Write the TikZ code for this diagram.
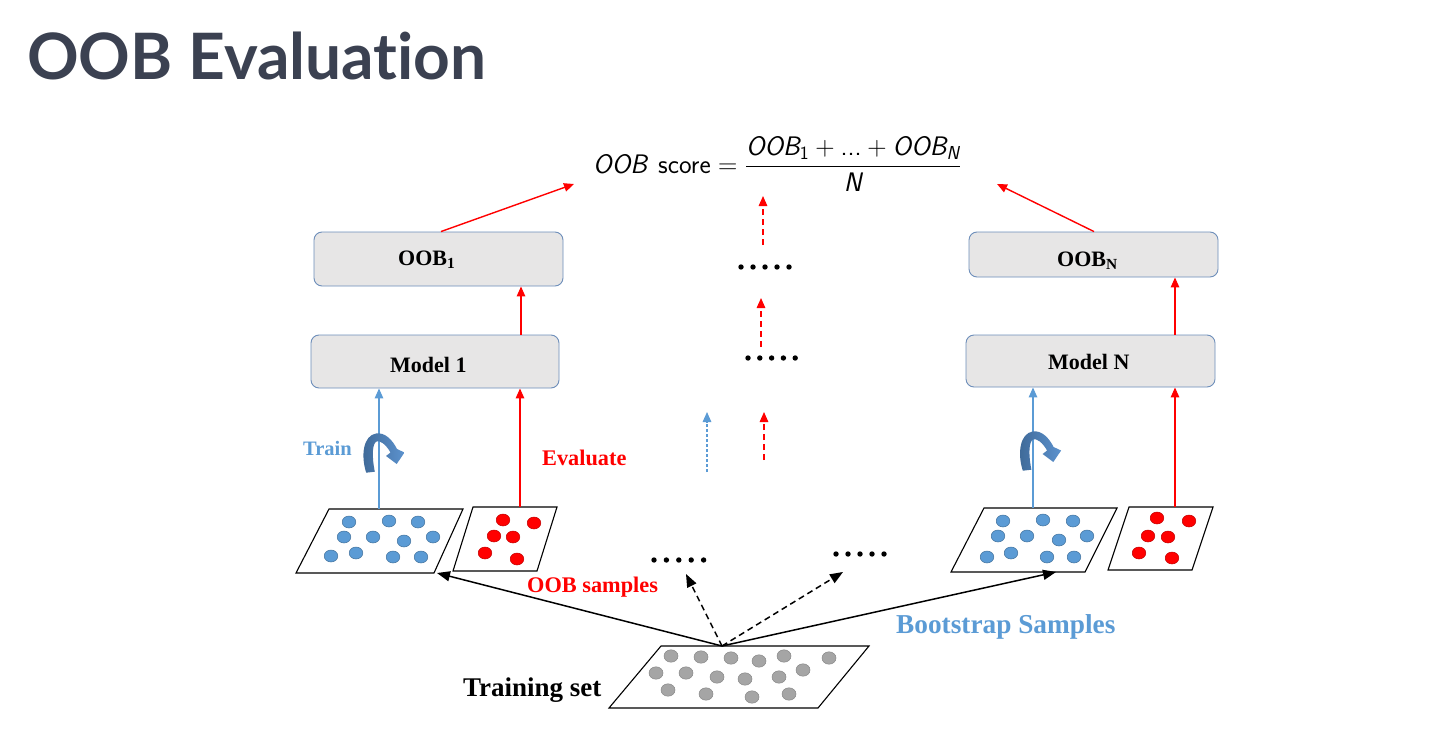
\documentclass[tikz,border=0pt]{standalone}
\usepackage{fix-cm}
\usepackage{amsmath}
\usepackage{fontspec}
\setmainfont{Liberation Serif}
\newfontfamily\latofont{Lato}[Ligatures=NoCommon]
\usetikzlibrary{arrows.meta}
\definecolor{titlecol}{RGB}{59,65,81}
\definecolor{lblue}{RGB}{91,155,213}
\definecolor{bluedark}{RGB}{65,113,156}
\definecolor{myred}{RGB}{255,0,0}
\definecolor{reddark}{RGB}{192,0,0}
\definecolor{boxfill}{RGB}{231,230,230}
\definecolor{boxborder}{RGB}{109,142,186}
\definecolor{grayfill}{RGB}{165,165,165}
\definecolor{graydraw}{RGB}{135,135,135}
\definecolor{curvedark}{RGB}{62,104,150}
\definecolor{curvelight}{RGB}{92,146,206}
\newcommand{\sfi}[1]{\text{\sffamily\itshape #1}}
\newcommand{\sfu}[1]{\text{\sffamily #1}}
\tikzset{
  modelbox/.style={draw=boxborder, fill=boxfill, rounded corners=8pt, line width=0.9pt, inner sep=0pt},
  boxtext/.style={inner sep=0pt, anchor=base west, font=\fontsize{22}{26}\selectfont\bfseries},
  lbl/.style={inner sep=0pt, anchor=base west, font=\bfseries},
  redarrow/.style={draw=myred, line width=1.4pt, -{Triangle[length=10pt,width=8.5pt]}},
  bluearrow/.style={draw=lblue, line width=1.4pt, -{Triangle[length=10pt,width=8.5pt]}},
  reddash/.style={redarrow, dash pattern=on 6pt off 4pt},
  bluedash/.style={bluearrow, dash pattern=on 3pt off 2pt},
  blackarrow/.style={draw=black, line width=1.5pt, -{Triangle[length=13pt,width=10pt]}},
  blackdash/.style={blackarrow, dash pattern=on 6pt off 4pt},
  para/.style={draw=black, line width=1.1pt, fill=white},
  bdot/.style={fill=lblue, draw=bluedark, line width=0.5pt},
  rdot/.style={fill=myred, draw=reddark, line width=0.5pt},
  gdot/.style={fill=grayfill, draw=graydraw, line width=0.5pt},
  curvearrow/.style={left color=curvedark, right color=curvelight, draw=none}
}
\begin{document}
\begin{tikzpicture}[x=1pt,y=-1pt]
\useasboundingbox (0,0) rectangle (1448,752);
\fill[white] (0,0) rectangle (1448,752);

% title
\node[inner sep=0pt, anchor=base west, text=titlecol, font=\latofont\bfseries\fontsize{64}{70}\selectfont] (title) at (27,80) {OOB Evaluation};

% formula
\node[inner sep=0pt] (formula) at (777,164) {\fontsize{26.8}{31}\selectfont $\displaystyle \sfi{OOB}\hspace{11pt}\sfu{score} = \frac{\sfi{OOB}_{\sfu{1}} + \sfu{...} + \sfi{OOB}_{\sfi{N}}}{\sfi{N}}$};
\coordinate (f1) at (574,184);
\coordinate (fN) at (997,184);

% boxes
\node[modelbox, minimum width=249, minimum height=54] (oob1) at (438.5,259) {};
\node[modelbox, minimum width=248, minimum height=53] (model1) at (435,361.5) {};
\node[modelbox, minimum width=249, minimum height=45] (oobN) at (1093.5,254.5) {};
\node[modelbox, minimum width=249, minimum height=52] (modelN) at (1090.5,361) {};
\node[boxtext] (oob1t) at (398,265) {OOB\textsubscript{1}};
\node[boxtext] (model1t) at (390,372) {Model 1};
\node[boxtext] (oobNt) at (1057,266) {OOB\textsubscript{N}};
\node[boxtext] (modelNt) at (1048,369) {Model N};

% parallelograms
\coordinate (bLtop) at (379,509);
\coordinate (rLtop) at (520,507);
\coordinate (bLcorner) at (437,573);
\coordinate (bRtop) at (1033,508);
\coordinate (rRtop) at (1175,507);
\coordinate (bRcorner) at (1056,572);
\coordinate (train) at (722,646);
\coordinate (dotsA) at (686,574);
\coordinate (dotsB) at (843,572);

\draw[para] (329,509) -- (463,509) -- (434,573) -- (296,573) -- cycle;
\draw[para] (473,507) -- (557,507) -- (537,571) -- (453,571) -- cycle;
\draw[para] (984,508) -- (1117,508) -- (1085,572) -- (951,572) -- cycle;
\draw[para] (1129,507) -- (1213,507) -- (1192,570) -- (1108,570) -- cycle;
\draw[para] (661,646) -- (869,646) -- (818,708) -- (609,708) -- cycle;

% dots
\foreach \p in {(349,522),(389,521),(418,522),(344,537),(373,537),(404,541),(433,537),(331,556),(356,553),(393,557),(421,557)}
  \path[bdot] \p ellipse [x radius=6.8, y radius=6];
\foreach \p in {(503,520),(534,523),(494,536),(513,537),(485,553),(517,559)}
  \path[rdot] \p ellipse [x radius=6.8, y radius=6];
\foreach \p in {(1003,521),(1043,520),(1073,521),(998,536),(1027,536),(1059,540),(1087,536),(987,557),(1011,553),(1047,557),(1074,557)}
  \path[bdot] \p ellipse [x radius=6.8, y radius=6];
\foreach \p in {(1157,518),(1189,521),(1148,536),(1168,537),(1139,553),(1172,558)}
  \path[rdot] \p ellipse [x radius=6.8, y radius=6];
\foreach \p in {(671,656),(701,657),(731,658),(759,661),(784,656),(829,658),(656,673),(686,673),(717,677),(745,679),(779,677),(803,670),(668,690),(706,694),(752,697),(789,694)}
  \path[gdot] \p ellipse [x radius=7, y radius=6.2];

% small black dots
\foreach \x in {0,1,2,3,4} {
  \fill (654+12.4*\x,560) circle [radius=2.7];
  \fill (836+12*\x,554) circle [radius=2.7];
  \fill (741+12*\x,267) circle [radius=2.7];
  \fill (748+11.8*\x,358) circle [radius=2.7];
}

% connectors: vertical
\draw[bluearrow] (bLtop) -- (bLtop |- model1.south);
\draw[redarrow] (rLtop) -- (rLtop |- model1.south);
\draw[redarrow] ([xshift=1pt]rLtop |- model1.north) -- ([xshift=1pt]rLtop |- oob1.south);
\draw[bluearrow] (bRtop) -- (bRtop |- modelN.south);
\draw[redarrow] (rRtop) -- (rRtop |- modelN.south);
\draw[redarrow] (rRtop |- modelN.north) -- (rRtop |- oobN.south);
\draw[redarrow] ([xshift=2.5pt]oob1.north) -- (f1);
\draw[redarrow] ([xshift=0.5pt]oobN.north) -- (fN);

% middle dashed arrows
\coordinate (m1s) at (763,245); \coordinate (m1e) at (763,196);
\coordinate (m2s) at (761,347); \coordinate (m2e) at (761,298);
\coordinate (m3s) at (707,472); \coordinate (m3e) at (707,412);
\coordinate (m4s) at (764,460); \coordinate (m4e) at (764,412);
\draw[reddash] (m1s) -- (m1e);
\draw[reddash] (m2s) -- (m2e);
\draw[bluedash] (m3s) -- (m3e);
\draw[reddash] (m4s) -- (m4e);

% training arrows
\draw[blackarrow] (train) -- (bLcorner);
\draw[blackarrow] (train) -- (bRcorner);
\draw[blackdash] (train) -- (dotsA);
\draw[blackdash] (train) -- (dotsB);

% curved arrows
\shade[curvearrow] (366.2,472.7) .. controls (360.5,455) and (363.5,435.5) .. (376,433.5) .. controls (385,432) and (392.5,440) .. (397,449) -- (404.5,452.5) -- (396.7,464) -- (386,456) -- (390.5,452.5) .. controls (386,444.5) and (380,440) .. (376.5,441.5) .. controls (372.5,443.5) and (371.5,455) .. (374.8,471.7) -- cycle;
\begin{scope}[shift={(656.6,-2)}]
\shade[curvearrow] (366.2,472.7) .. controls (360.5,455) and (363.5,435.5) .. (376,433.5) .. controls (385,432) and (392.5,440) .. (397,449) -- (404.5,452.5) -- (396.7,464) -- (386,456) -- (390.5,452.5) .. controls (386,444.5) and (380,440) .. (376.5,441.5) .. controls (372.5,443.5) and (371.5,455) .. (374.8,471.7) -- cycle;
\end{scope}

% labels
\node[lbl, text=lblue, font=\bfseries\fontsize{20.5}{24}\selectfont] (trainlbl) at (303,455) {Train};
\node[lbl, text=myred, font=\bfseries\fontsize{22.3}{26}\selectfont] (evallbl) at (542,465) {Evaluate};
\node[lbl, text=myred, font=\bfseries\fontsize{22.3}{26}\selectfont] (ooblbl) at (527,592) {OOB samples};
\node[lbl, text=lblue, font=\bfseries\fontsize{27.3}{32}\selectfont] (bootlbl) at (896,633) {Bootstrap Samples};
\node[lbl, text=black, font=\bfseries\fontsize{27}{32}\selectfont] (trainset) at (463,696) {Training set};
\end{tikzpicture}
\end{document}
